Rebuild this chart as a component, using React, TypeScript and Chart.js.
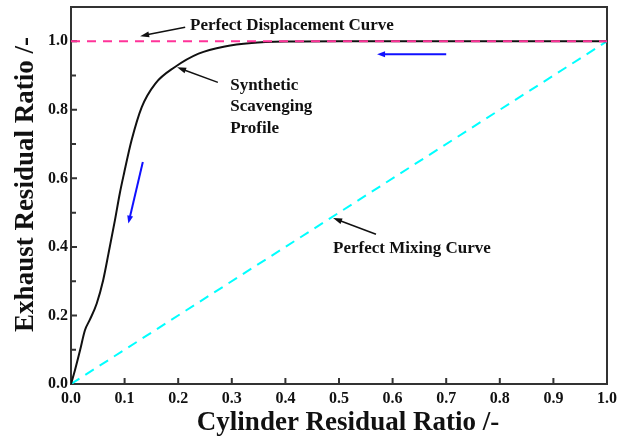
import React, { useEffect, useRef } from "react";
import { Chart, registerables } from "chart.js";

Chart.register(...registerables);

// ---- data ----
const curveX = [0, 0.0075, 0.017, 0.026, 0.035, 0.048, 0.06, 0.07, 0.082, 0.091, 0.099, 0.113, 0.132, 0.157, 0.194, 0.238, 0.287, 0.337, 0.4, 0.5, 0.6, 0.7, 0.8, 0.9, 1.0];
const curveY = [0, 0.041, 0.099, 0.157, 0.187, 0.235, 0.303, 0.381, 0.478, 0.556, 0.615, 0.711, 0.808, 0.876, 0.925, 0.964, 0.985, 0.995, 0.999, 1, 1, 1, 1, 1, 1];
const displacementX = [0, 1];
const displacementY = [1, 1];
const mixingX = [0, 1];
const mixingY = [0, 1];
const xTickValues = [0, 0.1, 0.2, 0.3, 0.4, 0.5, 0.6, 0.7, 0.8, 0.9, 1.0];
const yTickValues = [0, 0.2, 0.4, 0.6, 0.8, 1.0];
const yMinorTickValues = [0.1, 0.3, 0.5, 0.7, 0.9];
const xTitle = "Cylinder Residual Ratio /-";
const yTitle = "Exhaust Residual Ratio /-";

// annotation labels
const labelDisplacement = ["Perfect Displacement Curve"];
const labelSynthetic = ["Synthetic", "Scavenging", "Profile"];
const labelMixing = ["Perfect Mixing Curve"];

const SERIF = '"Liberation Serif", "Times New Roman", serif';

const toPts = (xs: number[], ys: number[]) => xs.map((x, i) => ({ x, y: ys[i] }));

function arrow(ctx: CanvasRenderingContext2D, x1: number, y1: number, x2: number, y2: number, color: string, lw: number, headLen: number, headW: number) {
  const ang = Math.atan2(y2 - y1, x2 - x1);
  ctx.save();
  ctx.strokeStyle = color;
  ctx.fillStyle = color;
  ctx.lineWidth = lw;
  ctx.setLineDash([]);
  ctx.beginPath();
  ctx.moveTo(x1, y1);
  ctx.lineTo(x2 - Math.cos(ang) * headLen * 0.6, y2 - Math.sin(ang) * headLen * 0.6);
  ctx.stroke();
  ctx.beginPath();
  ctx.moveTo(x2, y2);
  ctx.lineTo(x2 - Math.cos(ang) * headLen + Math.sin(ang) * headW / 2, y2 - Math.sin(ang) * headLen - Math.cos(ang) * headW / 2);
  ctx.lineTo(x2 - Math.cos(ang) * headLen - Math.sin(ang) * headW / 2, y2 - Math.sin(ang) * headLen + Math.cos(ang) * headW / 2);
  ctx.closePath();
  ctx.fill();
  ctx.restore();
}

const framePlugin = {
  id: "frame",
  beforeDatasetsDraw(chart: any) {
    const { ctx, chartArea: a, scales } = chart;
    ctx.save();
    ctx.strokeStyle = "#333";
    ctx.lineWidth = 2;
    ctx.strokeRect(a.left, a.top, a.right - a.left, a.bottom - a.top);
    ctx.beginPath();
    xTickValues.forEach((v) => {
      const px = scales.x.getPixelForValue(v);
      ctx.moveTo(px, a.bottom);
      ctx.lineTo(px, a.bottom - 6);
    });
    yTickValues.forEach((v) => {
      const py = scales.y.getPixelForValue(v);
      ctx.moveTo(a.left, py);
      ctx.lineTo(a.left + 6, py);
    });
    yMinorTickValues.forEach((v) => {
      const py = scales.y.getPixelForValue(v);
      ctx.moveTo(a.left, py);
      ctx.lineTo(a.left + 5, py);
    });
    ctx.stroke();

    // axis titles
    ctx.fillStyle = "#111";
    ctx.font = `bold 27px ${SERIF}`;
    ctx.textAlign = "center";
    ctx.textBaseline = "alphabetic";
    ctx.fillText(xTitle, (a.left + a.right) / 2 + 9, 430);
    ctx.translate(33, (a.top + a.bottom) / 2 - 11);
    ctx.rotate(-Math.PI / 2);
    ctx.fillText(yTitle, 0, 0);
    ctx.restore();
  },
};

const annotationPlugin = {
  id: "annot",
  afterDatasetsDraw(chart: any) {
    const { ctx, scales } = chart;
    const X = (v: number) => scales.x.getPixelForValue(v);
    const Y = (v: number) => scales.y.getPixelForValue(v);
    ctx.save();
    ctx.font = `bold 17px ${SERIF}`;
    ctx.fillStyle = "#111";
    ctx.textAlign = "left";
    ctx.textBaseline = "middle";
    // Perfect displacement
    ctx.fillText(labelDisplacement[0], X(0.222), Y(1.047));
    arrow(ctx, X(0.213), Y(1.041), X(0.129), Y(1.015), "#111", 1.5, 9, 6);
    // Synthetic
    const synY = [0.872, 0.808, 0.746];
    labelSynthetic.forEach((t, i) => ctx.fillText(t, X(0.297), Y(synY[i])));
    arrow(ctx, X(0.274), Y(0.88), X(0.198), Y(0.924), "#111", 1.5, 9, 6);
    // Mixing
    ctx.fillText(labelMixing[0], X(0.489), Y(0.394));
    arrow(ctx, X(0.569), Y(0.437), X(0.489), Y(0.484), "#111", 1.5, 9, 6);
    // blue direction arrows
    arrow(ctx, X(0.70), Y(0.962), X(0.571), Y(0.962), "#1010ff", 2, 8, 6);
    arrow(ctx, X(0.134), Y(0.648), X(0.107), Y(0.468), "#1010ff", 2, 8, 6);
    ctx.restore();
  },
};

export default function App() {
  const ref = useRef<HTMLCanvasElement>(null);
  useEffect(() => {
    document.body.style.margin = "0";
    const canvas = ref.current!;
    const chart = new Chart(canvas, {
      type: "line",
      data: {
        datasets: [
          {
            label: "Perfect Displacement Curve",
            data: toPts(displacementX, displacementY),
            borderColor: "#ff3399",
            borderWidth: 2,
            borderDash: [9, 7],
            pointRadius: 0,
            order: 0,
          },
          {
            label: "Synthetic Scavenging Profile",
            data: toPts(curveX, curveY),
            borderColor: "#111",
            borderWidth: 2,
            pointRadius: 0,
            cubicInterpolationMode: "monotone",
            order: 1,
          },
          {
            label: "Perfect Mixing Curve",
            data: toPts(mixingX, mixingY),
            borderColor: "#00ffff",
            borderWidth: 2,
            borderDash: [10, 7],
            pointRadius: 0,
            order: 2,
          },
        ],
      },
      options: {
        animation: false,
        responsive: false,
        devicePixelRatio: 1,
        layout: { padding: { top: 7, right: 19, left: 0, bottom: 0 } },
        plugins: { legend: { display: false }, tooltip: { enabled: false } },
        scales: {
          x: {
            type: "linear",
            min: 0,
            max: 1,
            grid: { display: false, drawTicks: false },
            border: { display: false },
            afterBuildTicks: (s: any) => {
              s.ticks = xTickValues.map((v) => ({ value: v }));
            },
            afterFit: (s: any) => {
              s.height = 52;
              s.paddingLeft = 0;
              s.paddingRight = 0;
            },
            ticks: {
              color: "#111",
              padding: 5,
              maxRotation: 0,
              autoSkip: false,
              font: { family: SERIF, size: 16, weight: "bold" },
              callback: (v: any) => Number(v).toFixed(1),
            },
          },
          y: {
            type: "linear",
            min: 0,
            max: 1.1,
            grid: { display: false, drawTicks: false },
            border: { display: false },
            afterBuildTicks: (s: any) => {
              s.ticks = yTickValues.map((v) => ({ value: v }));
            },
            afterFit: (s: any) => {
              s.width = 71;
              s.paddingTop = 0;
              s.paddingBottom = 0;
            },
            ticks: {
              color: "#111",
              padding: 3,
              autoSkip: false,
              font: { family: SERIF, size: 16, weight: "bold" },
              callback: (v: any) => Number(v).toFixed(1),
            },
          },
        },
      },
      plugins: [framePlugin, annotationPlugin],
    } as any);
    return () => chart.destroy();
  }, []);
  return <canvas ref={ref} width={626} height={436} style={{ display: "block" }} />;
}
